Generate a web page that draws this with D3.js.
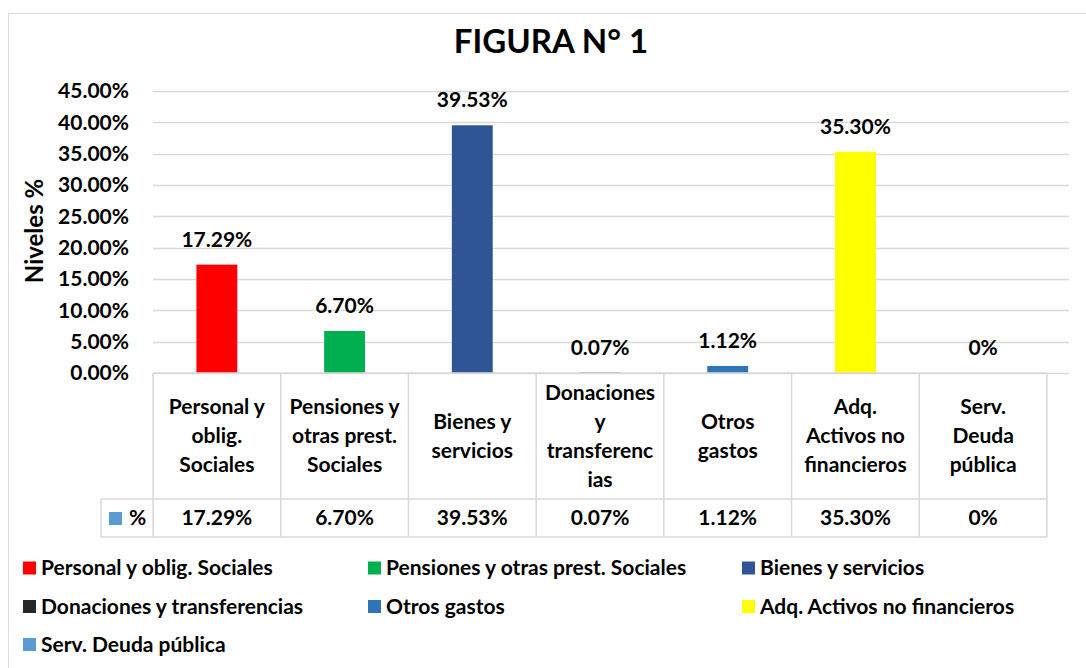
<!DOCTYPE html>
<html>
<head>
<meta charset="utf-8">
<script src="https://cdn.jsdelivr.net/npm/d3@7"></script>
<style>
  body { margin: 0; background: #fff; }
  text { font-family: Lato, "Open Sans", sans-serif; font-weight: bold; fill: #000; }
</style>
</head>
<body>
<svg width="1086" height="668"></svg>
<script>
const categories = ['Personal y oblig. Sociales', 'Pensiones y otras prest. Sociales', 'Bienes y servicios',
  'Donaciones y transferencias', 'Otros gastos', 'Adq. Activos no financieros', 'Serv. Deuda pública']
// header text in the data table, wrapped as in the picture
const headerLines = [['Personal y', 'oblig.', 'Sociales'], ['Pensiones y', 'otras prest.', 'Sociales'],
  ['Bienes y', 'servicios'], ['Donaciones', 'y', 'transferenc', 'ias'], ['Otros', 'gastos'],
  ['Adq.', 'Activos no', 'financieros'], ['Serv.', 'Deuda', 'pública']]
const values = [0.1729, 0.0670, 0.3953, 0.0007, 0.0112, 0.3530, 0]
const valueLabels = ['17.29%', '6.70%', '39.53%', '0.07%', '1.12%', '35.30%', '0%']
const colors = ['#ff0000', '#00b050', '#2f5597', '#262626', '#2e75b6', '#ffff00', '#5b9bd5']
const yTicks = [0, 0.05, 0.1, 0.15, 0.2, 0.25, 0.3, 0.35, 0.4, 0.45]

const svg = d3.select('svg')
const grey = '#d9d9d9'
const fs = '21px'
const plot = {left: 153, right: 1047, gridRight: 1069, top: 91, bottom: 373}

svg.append('rect').attr('x', 8.5).attr('y', 13.5).attr('width', 1100).attr('height', 700)
  .attr('fill', 'none').attr('stroke', grey)

svg.append('text').attr('x', 551).attr('y', 53).attr('text-anchor', 'middle')
  .style('font-size', '33px').text('FIGURA N° 1')

const y = d3.scaleLinear().domain([0, 0.45]).range([plot.bottom, plot.top])
const x = d3.scaleBand().domain(categories).range([plot.left, plot.right])

// gridlines + tick labels
const yAxis = svg.append('g')
yAxis.selectAll('line').data(yTicks).join('line')
  .attr('x1', plot.left).attr('x2', plot.gridRight)
  .attr('y1', d => Math.round(y(d)) + 0.5).attr('y2', d => Math.round(y(d)) + 0.5)
  .attr('stroke', grey).attr('stroke-width', 1.5)
yAxis.selectAll('text').data(yTicks).join('text')
  .attr('x', 129).attr('y', d => y(d)).attr('dy', '0.35em').attr('text-anchor', 'end')
  .style('font-size', fs).text(d3.format('.2%'))

svg.append('text').attr('transform', `translate(43,${231}) rotate(-90)`)
  .attr('text-anchor', 'middle').style('font-size', '24px').text('Niveles %')

// bars
const barW = x.bandwidth() * 0.32
svg.append('g').selectAll('rect').data(categories).join('rect')
  .attr('x', d => x(d) + (x.bandwidth() - barW) / 2)
  .attr('width', barW)
  .attr('y', (d, i) => y(values[i]))
  .attr('height', (d, i) => y(0) - y(values[i]))
  .attr('fill', (d, i) => colors[i])

svg.append('g').selectAll('text').data(categories).join('text')
  .attr('x', d => x(d) + x.bandwidth() / 2)
  .attr('y', (d, i) => y(values[i]) - 18)
  .attr('text-anchor', 'middle').style('font-size', fs)
  .text((d, i) => valueLabels[i])

// data table
const table = svg.append('g').attr('stroke', grey).attr('stroke-width', 1.5)
const rowTop = plot.bottom, rowMid = 499, rowBot = 537, keyLeft = 101
table.append('line').attr('x1', plot.left).attr('x2', plot.right).attr('y1', rowTop).attr('y2', rowTop)
table.append('line').attr('x1', keyLeft).attr('x2', plot.right).attr('y1', rowMid).attr('y2', rowMid)
table.append('line').attr('x1', keyLeft).attr('x2', plot.right).attr('y1', rowBot).attr('y2', rowBot)
table.append('line').attr('x1', keyLeft).attr('x2', keyLeft).attr('y1', rowMid).attr('y2', rowBot)
table.selectAll('.v').data(categories.concat(['end'])).join('line').attr('class', 'v')
  .attr('x1', d => d === 'end' ? plot.right : x(d)).attr('x2', d => d === 'end' ? plot.right : x(d))
  .attr('y1', rowTop).attr('y2', rowBot)

const lineH = 29
const heads = svg.append('g').selectAll('text').data(categories).join('text')
  .attr('text-anchor', 'middle').style('font-size', fs)
heads.each(function (d, i) {
  const lines = headerLines[i]
  const cy = (rowTop + rowMid) / 2
  d3.select(this).selectAll('tspan').data(lines).join('tspan')
    .attr('x', x(d) + x.bandwidth() / 2)
    .attr('y', (l, j) => cy + (j - (lines.length - 1) / 2) * lineH)
    .attr('dy', '0.35em').text(l => l)
})

svg.append('g').selectAll('text').data(categories).join('text')
  .attr('x', d => x(d) + x.bandwidth() / 2).attr('y', (rowMid + rowBot) / 2).attr('dy', '0.35em')
  .attr('text-anchor', 'middle').style('font-size', fs)
  .text((d, i) => valueLabels[i])

svg.append('rect').attr('x', 109).attr('y', 512).attr('width', 13).attr('height', 13).attr('fill', '#5b9bd5')
svg.append('text').attr('x', 129).attr('y', (rowMid + rowBot) / 2).attr('dy', '0.35em')
  .style('font-size', fs).text('%')

// legend
const legendCols = [23, 368, 742]
const legendRows = [568, 606.5, 644.5]
const legend = svg.append('g').selectAll('g').data(categories).join('g')
  .attr('transform', (d, i) => `translate(${legendCols[i % 3]},${legendRows[Math.floor(i / 3)]})`)
legend.append('rect').attr('x', 0).attr('y', -6.5).attr('width', 13).attr('height', 13)
  .attr('fill', (d, i) => colors[i])
legend.append('text').attr('x', 18).attr('dy', '0.35em').style('font-size', fs).text(d => d)
</script>
</body>
</html>
